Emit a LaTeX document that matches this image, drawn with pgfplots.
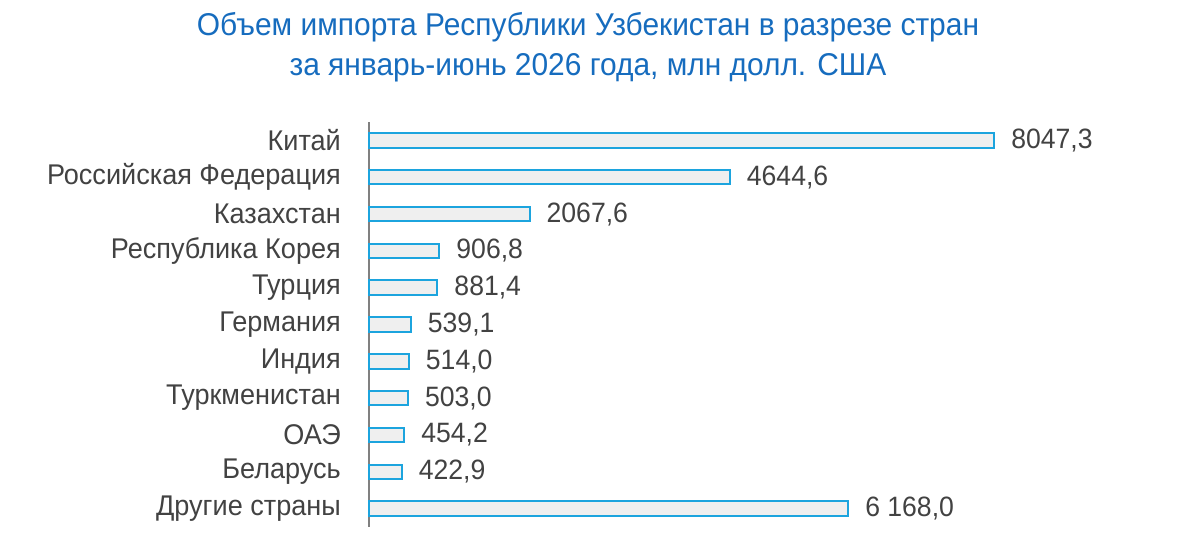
\documentclass[border=0pt]{standalone}
\usepackage{fontspec}
\setmainfont{Liberation Sans}[FakeStretch=0.95]
\usepackage{pgfplots}
\usepackage{pgfplotstable}
\pgfplotsset{compat=1.18}
\definecolor{titleblue}{RGB}{22,108,190}
\definecolor{barline}{RGB}{28,164,222}
\definecolor{barfill}{RGB}{239,239,239}
\definecolor{txt}{RGB}{66,66,66}
\definecolor{axgray}{RGB}{128,128,128}

\pgfplotstableread{
x y lab
8047.3 0 {8047,3}
4644.6 1 {4644,6}
2067.6 2 {2067,6}
906.8 3 {906,8}
881.4 4 {881,4}
539.1 5 {539,1}
514.0 6 {514,0}
503.0 7 {503,0}
454.2 8 {454,2}
422.9 9 {422,9}
6168.0 10 {6 168,0}
}\imports

\begin{document}
\begin{tikzpicture}[x=1pt,y=1pt]
\useasboundingbox (-369,-20) rectangle (808,527);
\begin{axis}[
    scale only axis,
    width=730pt, height=405pt,
    xmin=0, xmax=9395,
    ymin=-0.5, ymax=10.5,
    y dir=reverse,
    axis x line=none,
    axis y line*=left,
    axis line style={axgray, line width=1.3pt, -},
    ytick={0,...,10},
    yticklabels={Китай,Российская Федерация,Казахстан,Республика Корея,Турция,Германия,Индия,Туркменистан,ОАЭ,Беларусь,Другие страны},
    major tick length=0pt,
    yticklabel style={font=\fontsize{28.5}{32}\selectfont, text=txt, inner sep=0pt, xshift=-28pt},
    xbar, bar width=14.5pt,
    nodes near coords={\pgfplotspointmeta},
    point meta=explicit symbolic,
    every node near coord/.append style={font=\fontsize{28}{32}\selectfont, text=txt, anchor=west, inner sep=0pt, xshift=16pt},
    clip=false,
]
\addplot[draw=barline, fill=barfill, line width=2pt] table[x=x, y=y, meta=lab] {\imports};
\end{axis}
\node[text=titleblue, font=\fontsize{31.5}{36}\selectfont] at (219,500) {Объем импорта Республики Узбекистан в разрезе стран};
\node[text=titleblue, font=\fontsize{31.5}{36}\selectfont] at (219,459) {за январь-июнь 2026 года, млн долл. США};
\end{tikzpicture}
\end{document}
